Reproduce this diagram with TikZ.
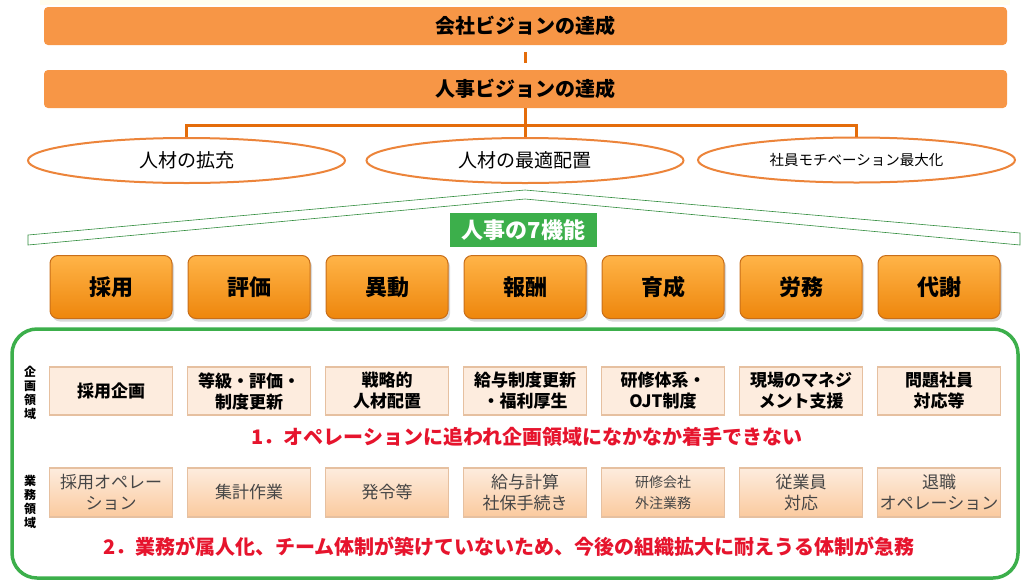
\documentclass[tikz,border=0pt]{standalone}
\usepackage{fontspec}
\setmainfont{Noto Sans CJK JP}
\usetikzlibrary{shapes.geometric,shadows}

\definecolor{barorange}{RGB}{247,150,70}
\definecolor{lineorange}{RGB}{228,108,10}
\definecolor{ellorange}{RGB}{236,132,58}
\definecolor{funtop}{RGB}{255,180,72}
\definecolor{funbot}{RGB}{238,134,12}
\definecolor{funedge}{RGB}{200,110,25}
\definecolor{peach}{RGB}{253,236,222}
\definecolor{peachdark}{RGB}{251,202,158}
\definecolor{peachedge}{RGB}{230,192,160}
\definecolor{boxgreen}{RGB}{60,175,75}
\definecolor{alertred}{RGB}{230,20,45}
\definecolor{opgray}{RGB}{70,70,70}

\newcommand{\smallop}{\fontsize{14}{18}\selectfont}

\tikzset{
  visionbar/.style={fill=barorange, rounded corners=4pt, minimum width=963pt, minimum height=38pt, inner sep=0pt, font=\fontsize{20}{22}\selectfont\bfseries},
  goal/.style={ellipse, draw=ellorange, line width=2pt, fill=white, minimum width=317pt, minimum height=45pt, inner sep=0pt, font=\fontsize{19}{21}\selectfont},
  func/.style={rounded corners=8pt, draw=funedge, line width=1pt, top color=funtop, bottom color=funbot, minimum width=122pt, minimum height=63pt, font=\fontsize{22}{24}\selectfont\bfseries, drop shadow={shadow xshift=2pt, shadow yshift=-3pt, opacity=0.3}},
  plan/.style={draw=peachedge, line width=1.2pt, fill=peach, minimum width=123pt, minimum height=48pt, align=center, inner sep=0pt, font=\fontsize{17}{21}\selectfont\bfseries},
  oper/.style={draw=peachedge, line width=1.2pt, top color=peach, bottom color=peachdark, minimum width=123pt, minimum height=49pt, align=center, inner sep=0pt, text=opgray, font=\fontsize{17}{21}\selectfont},
  link/.style={draw=lineorange, line width=3pt},
  area/.style={align=center, inner sep=0pt, font=\fontsize{12}{14}\selectfont\bfseries},
  alert/.style={text=alertred, font=\fontsize{20}{22}\selectfont\bfseries}
}

\begin{document}
\begin{tikzpicture}[x=1pt,y=-1pt]
  \useasboundingbox (0,0) rectangle (1024,584);
  \fill[yellow!6] (40,0) rectangle (1010,5);

  \node[visionbar] (V1) at (525.5,26) {会社ビジョンの達成};
  \node[visionbar] (V2) at (525.5,89) {人事ビジョンの達成};
  \draw[link, shorten <=7pt, shorten >=7pt] (V1.south -| 525,0) -- (V2.north -| 525,0);

  \node[goal] (G1) at (186.5,160.5) {人材の拡充};
  \node[goal] (G2) at (525,160.5) {人材の最適配置};
  \node[goal, font=\fontsize{14.5}{16}\selectfont] (G3) at (856.5,160) {社員モチベーション最大化};

  \coordinate (J) at (525,125);
  \draw[link] (V2.south -| G2.north) -- (G2.north);
  \draw[link] (G1.north) |- (J) -| (G3.north);

  % wedge down to the seven functions
  \draw[boxgreen!80!black, line width=0.6pt, fill=white] (28,235) -- (525,190) -- (1020,233) -- (1020,245) -- (525,199) -- (28,245) -- cycle;
  \node[fill=boxgreen, text=white, minimum width=147pt, minimum height=34pt, font=\fontsize{22}{24}\selectfont\bfseries] (T) at (523.5,230) {人事の7機能};

  \foreach \t [count=\i, evaluate={\x=111+138*(\i-1)}] in {採用,評価,異動,報酬,育成,労務,代謝}
    \node[func] (F\i) at (\x,287) {\t};

  \node[draw=boxgreen, line width=3.5pt, rounded corners=25pt, minimum width=1006pt, minimum height=249pt] (frame) at (515,453.5) {};

  \node[area] (A1) at (30,393) {企\\画\\領\\域};
  \node[area] (A2) at (30,502) {業\\務\\領\\域};

  \foreach \t [count=\i, evaluate={\x=111+138*(\i-1)}] in {{採用企画},{等級・評価・\\制度更新},{戦略的\\人材配置},{給与制度更新\\・福利厚生},{研修体系・\\OJT制度},{現場のマネジ\\メント支援},{問題社員\\対応等}}
    \node[plan] (P\i) at (\x,391) {\t};

  \foreach \t [count=\i, evaluate={\x=111+138*(\i-1)}] in {{採用オペレー\\ション},{集計作業},{発令等},{給与計算\\社保手続き},{\smallop 研修会社\\\smallop 外注業務},{従業員\\対応},{退職\\オペレーション}}
    \node[oper] (O\i) at (\x,492.5) {\t};

  \node[alert] (M1) at (527,437) {1．オペレーションに追われ企画領域になかなか着手できない};
  \node[alert] (M2) at (509,547) {2．業務が属人化、チーム体制が築けていないため、今後の組織拡大に耐えうる体制が急務};
\end{tikzpicture}
\end{document}
